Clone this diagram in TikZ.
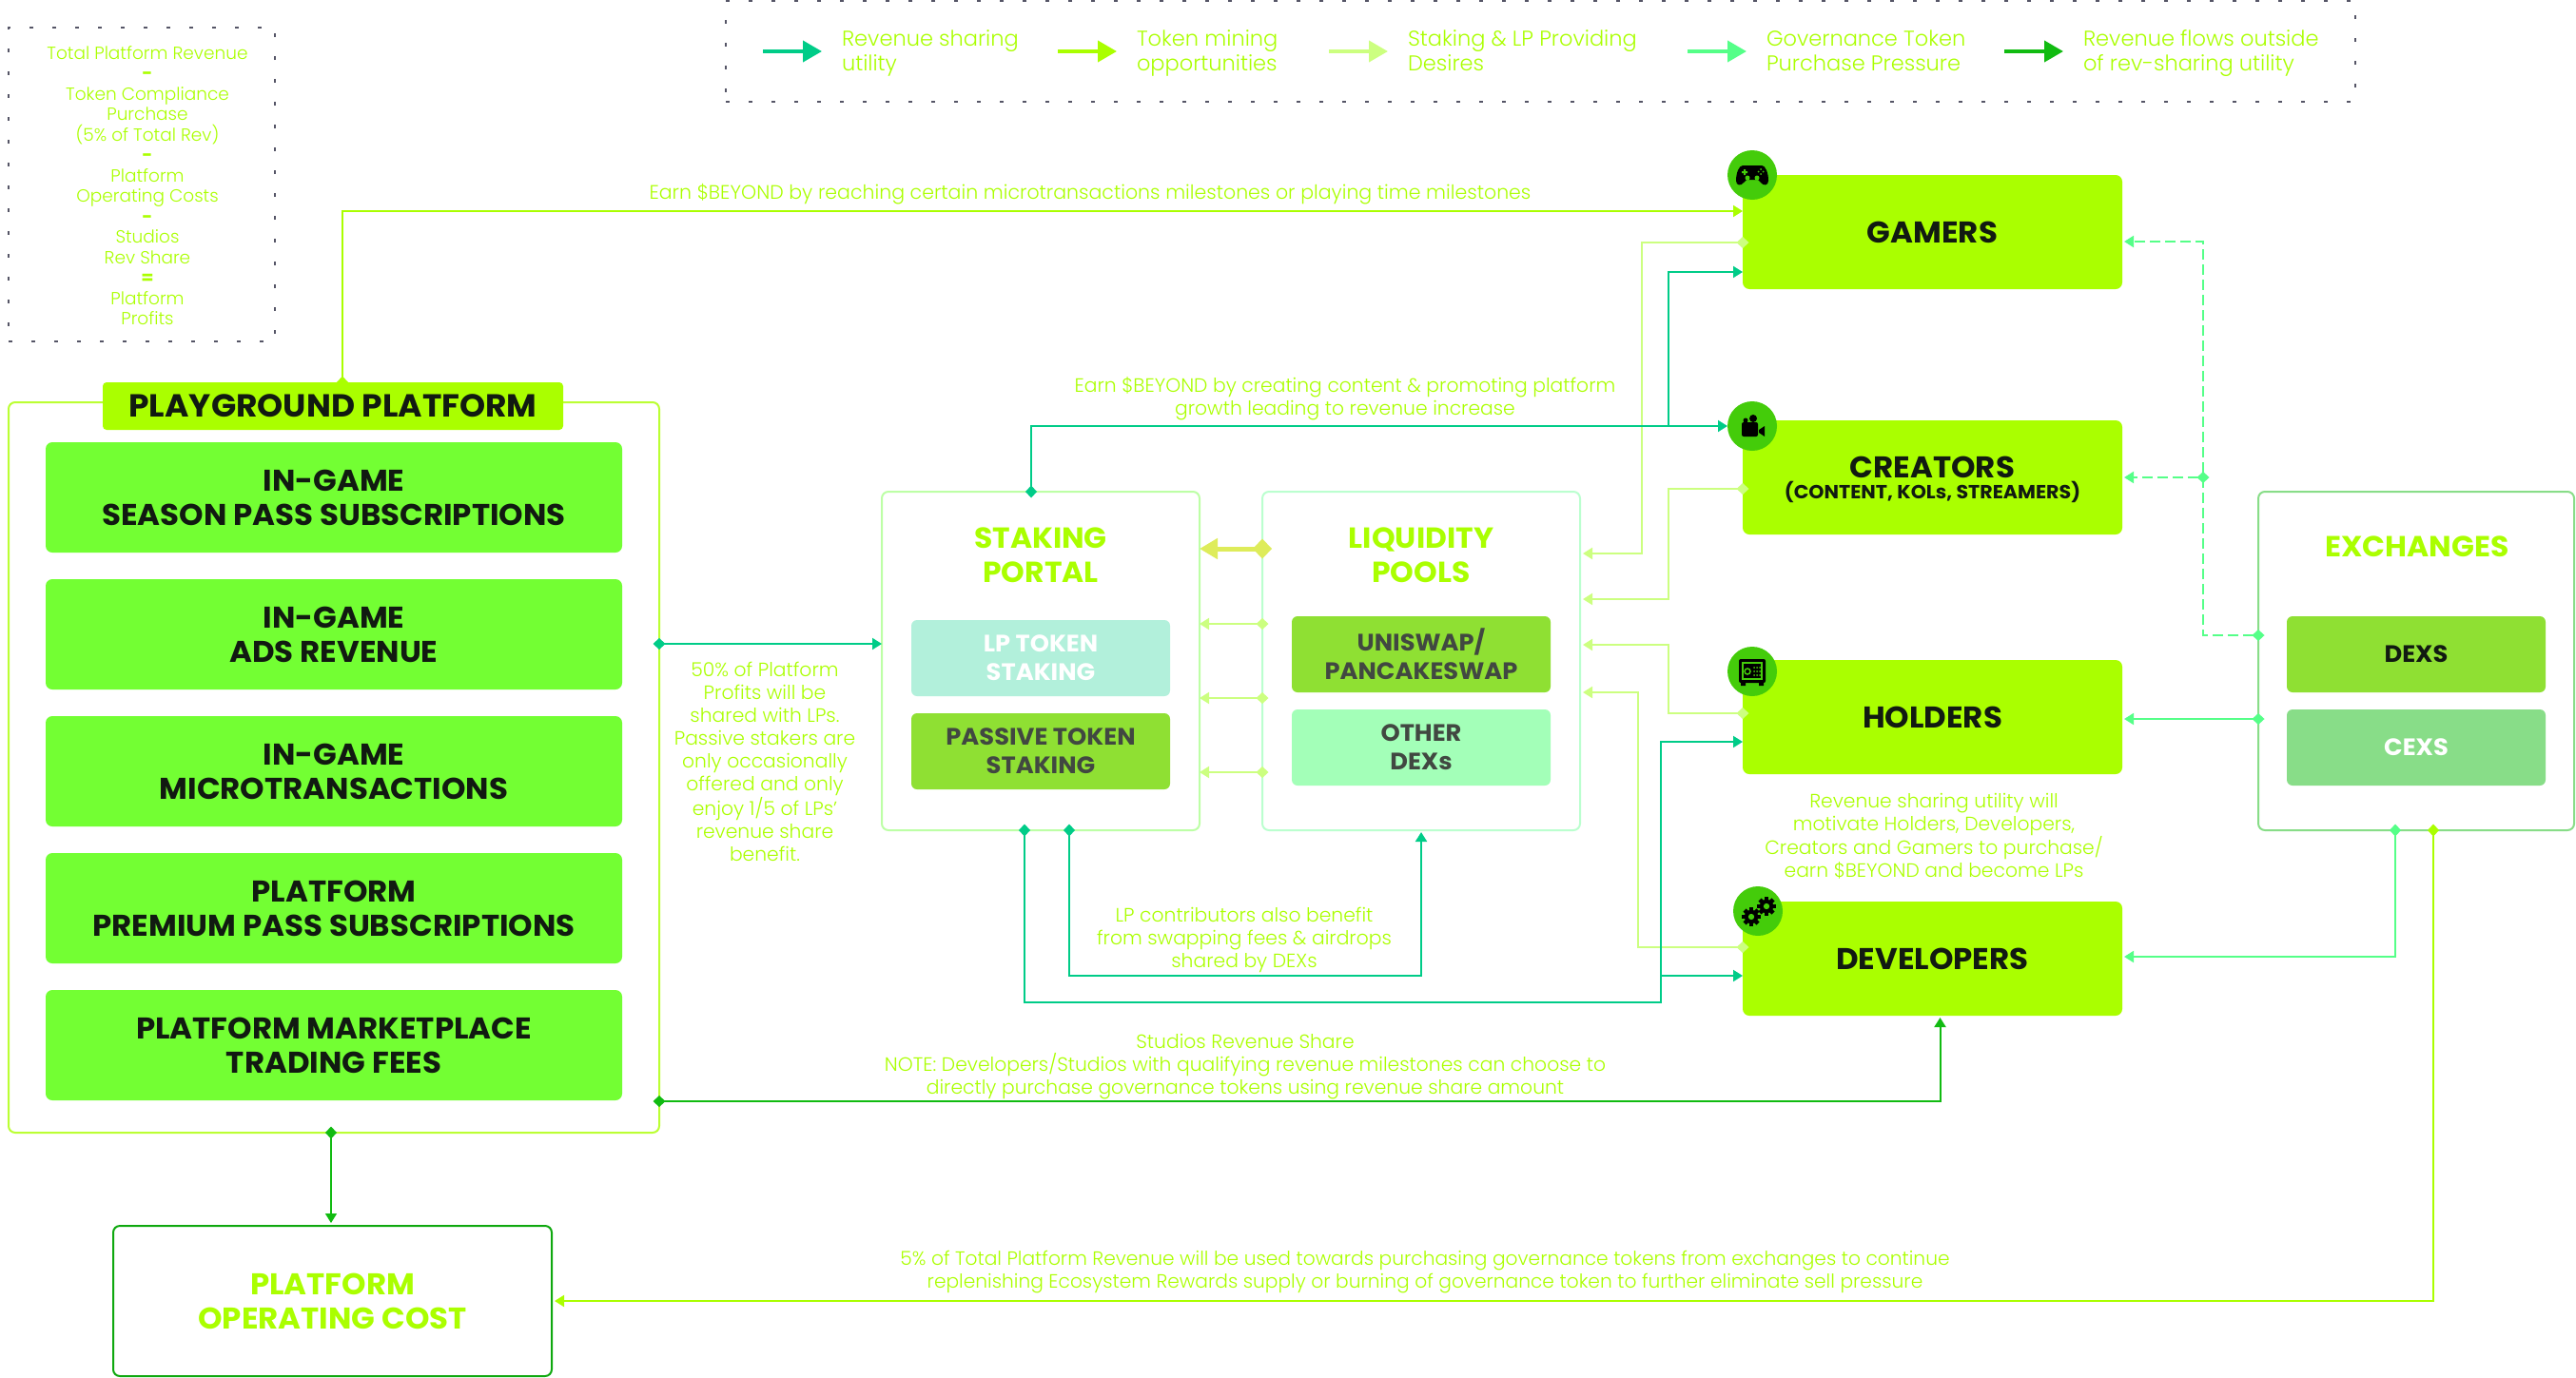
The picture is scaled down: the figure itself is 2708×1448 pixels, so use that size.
\documentclass[tikz,border=0pt]{standalone}
\usepackage{fontspec}
\setmainfont{Poppins Light}[BoldFont={Poppins Bold},BoldFeatures={FakeStretch=1.03}]
\usetikzlibrary{positioning,arrows.meta}
\definecolor{limec}{HTML}{AAFF00}
\definecolor{itemc}{HTML}{73FF33}
\definecolor{revc}{HTML}{00CC88}
\definecolor{stakec}{HTML}{CCFF80}
\definecolor{govc}{HTML}{55FF88}
\definecolor{flowc}{HTML}{11BB11}
\definecolor{iconc}{HTML}{44CC0A}
\definecolor{darkc}{HTML}{111A11}
\definecolor{dotc}{HTML}{555566}
\definecolor{subc}{HTML}{8FE033}
\definecolor{otherc}{HTML}{A3FFB8}
\tikzset{
  gamepad/.pic={
    \fill[black] (-10,-10) .. controls (-14,-10) and (-17,-2) .. (-17,6) .. controls (-17,11) and (-12,12) .. (-9,8) -- (-6,5) -- (6,5) -- (9,8) .. controls (12,12) and (17,11) .. (17,6) .. controls (17,-2) and (14,-10) .. (10,-10) -- cycle;
    \fill[iconc] (-5,3) circle (2.5) (5,3) circle (2.5) (-11,-4) rectangle (-5,-2) (-9,-6) rectangle (-7,0);
    \fill[iconc] (9,-6) circle (1) (9,-1) circle (1) (6.5,-3.5) circle (1) (11.5,-3.5) circle (1);
  },
  camcorder/.pic={
    \fill[black,rounded corners=2] (-11,-4) rectangle (6,11);
    \fill[black] (7,4) -- (13,0) -- (13,11) -- (7,7) -- cycle;
    \fill[black] (1,-8) circle (4) (-7,-6) circle (2.5);
  },
  safebox/.pic={
    \fill[black,rounded corners=2] (-14,-13) rectangle (14,12);
    \fill[black] (-12,12) rectangle (-7,15) (7,12) rectangle (12,15);
    \draw[iconc,line width=1.5] (-10,-9) rectangle (10,8);
    \draw[iconc,line width=1.5] (-5,0) circle (3);
    \foreach \i in {2,5,8} \foreach \j in {-4,0,4} \fill[iconc] (\i,\j) circle (1);
  },
  cogwheel/.pic={
    \foreach \a in {0,45,...,315} \fill[black,rotate=\a] (-2.5,-11) rectangle (2.5,0);
    \fill[black] (0,0) circle (8);
    \fill[iconc] (0,0) circle (3.5);
  },
}
\begin{document}
\begin{tikzpicture}[x=1pt,y=-1pt,>={Triangle[length=10pt,width=12pt]},
    dia/.tip={Diamond[length=13pt,width=12pt,sep=-6.5pt]},
    every node/.style={font=\fontsize{20.3}{24}\selectfont,align=center,inner sep=0pt,outer sep=0pt},
    note/.style={text=limec},
    dotbox/.style={draw=dotc,line width=2.5pt,dash pattern=on 4pt off 20pt},
    portal/.style={draw,rounded corners=7pt,line width=2pt,minimum width=334pt,minimum height=356pt},
    head/.style={text=limec,font=\fontsize{30.5}{36}\bfseries\selectfont},
    itembox/.style={fill=itemc,rounded corners=7pt,text=darkc,minimum width=606pt,minimum height=116pt,font=\fontsize{31.5}{36}\bfseries\selectfont},
    userbox/.style={fill=limec,rounded corners=7pt,text=darkc,minimum width=399pt,minimum height=120pt,font=\fontsize{31.5}{36}\bfseries\selectfont},
    subbox/.style={rounded corners=6pt,minimum width=272pt,minimum height=80pt,font=\fontsize{25}{30}\bfseries\selectfont},
    icon/.style={circle,fill=iconc,minimum size=52pt},
    rev/.style={draw=revc,line width=2pt},
    token/.style={draw=limec,line width=2pt},
    stake/.style={draw=stakec,line width=2pt},
    gov/.style={draw=govc,line width=2pt},
    flow/.style={draw=flowc,line width=2pt},
    legtext/.style={text=limec,anchor=west,align=left,text height=47pt,text depth=6pt,font=\fontsize{22.5}{26}\selectfont},
    legarrow/.style={line width=4pt,-{Triangle[length=20pt,width=22pt]}}]
  \useasboundingbox (0,0) rectangle (2708,1448);

  \node[dotbox,minimum width=280pt,minimum height=330pt] (formula) at (149,194) {};
  \node[note,font=\fontsize{18.5}{21.5}\selectfont] (formulatext) at (155,195) {Total Platform Revenue\\\textbf{-}\\Token Compliance\\Purchase\\(5\% of Total Rev)\\\textbf{-}\\Platform\\Operating Costs\\\textbf{-}\\Studios\\Rev Share\\\textbf{=}\\Platform\\Profits};

  \node[dotbox,minimum width=1713pt,minimum height=106pt] (legend) at (1619.5,54) {};
  \node[legtext] (leg1) at (885,54) {Revenue sharing\\utility};
  \node[legtext] (leg2) at (1195,54) {Token mining\\opportunities};
  \node[legtext] (leg3) at (1480,54) {Staking \& LP Providing\\Desires};
  \node[legtext] (leg4) at (1857,54) {Governance Token\\Purchase Pressure};
  \node[legtext] (leg5) at (2190,54) {Revenue flows outside\\of rev-sharing utility};
  \foreach \n/\c in {leg1/revc,leg2/limec,leg3/stakec,leg4/govc,leg5/flowc}
    \draw[legarrow,draw=\c,fill=\c,color=\c] ([xshift=-83pt]\n.west) -- ([xshift=-21pt]\n.west);

  \node[draw=limec!80!white,rounded corners=7pt,line width=2pt,minimum width=684pt,minimum height=768pt] (platform) at (351,807) {};
  \node[fill=limec,rounded corners=4pt,text=darkc,minimum width=484pt,minimum height=50pt,font=\fontsize{33.5}{36}\bfseries\selectfont] (title) at (350,427) {PLAYGROUND PLATFORM};
  \node[itembox] (item1) at (351,523) {IN-GAME\\SEASON PASS SUBSCRIPTIONS};
  \node[itembox,below=28pt of item1] (item2) {IN-GAME\\ADS REVENUE};
  \node[itembox,below=28pt of item2] (item3) {IN-GAME\\MICROTRANSACTIONS};
  \node[itembox,below=28pt of item3] (item4) {PLATFORM\\PREMIUM PASS SUBSCRIPTIONS};
  \node[itembox,below=28pt of item4] (item5) {PLATFORM MARKETPLACE\\TRADING FEES};
  \node[draw=flowc!90!black,rounded corners=7pt,line width=2pt,minimum width=461pt,minimum height=158pt,text=limec,font=\fontsize{31.5}{36}\bfseries\selectfont] (opcost) at (349.5,1368) {PLATFORM\\OPERATING COST};

  \node[portal,draw=stakec!60!green!50!white] (staking) at (1094,695) {};
  \node[portal,draw=govc!40!white] (liquidity) at (1494,695) {};
  \node[portal,draw=flowc!50!white,minimum width=332pt] (exchanges) at (2540,695) {};
  \node[head] (stakinghead) at (1094,584) {STAKING\\PORTAL};
  \node[head] (liquidityhead) at (1494,584) {LIQUIDITY\\POOLS};
  \node[head] (exchangeshead) at (2541,575) {EXCHANGES};
  \node[subbox,fill=revc!30!white,text=white] (lpstaking) at (1094,692) {LP TOKEN\\STAKING};
  \node[subbox,fill=subc,text=darkc!80!white,below=18pt of lpstaking] (passive) {PASSIVE TOKEN\\STAKING};
  \node[subbox,fill=subc,text=darkc!80!white] (uniswap) at (1494,688) {UNISWAP/\\PANCAKESWAP};
  \node[subbox,fill=otherc,text=darkc!80!white,below=18pt of uniswap] (otherdex) {OTHER\\DEXs};
  \node[subbox,fill=subc,text=darkc] (dexs) at (2540,688) {DEXS};
  \node[subbox,fill=flowc!50!white,text=white,below=18pt of dexs] (cexs) {CEXS};

  \node[userbox] (gamers) at (2031.5,244) {GAMERS};
  \node[userbox] (creators) at (2031.5,502) {\rule{0pt}{28pt}CREATORS\\[-14pt]{\fontsize{20}{24}\selectfont\bfseries (CONTENT, KOLs, STREAMERS)}};
  \node[userbox] (holders) at (2031.5,754) {HOLDERS};
  \node[userbox] (developers) at (2031.5,1008) {DEVELOPERS};

  \node[note,font=\fontsize{20.5}{24}\selectfont] (earngame) at (1146,204) {Earn \$BEYOND by reaching certain microtransactions milestones or playing time milestones};
  \node[note] (earncreate) at (1414,419) {Earn \$BEYOND by creating content \& promoting platform\\growth leading to revenue increase};
  \node[note] (fifty) at (804,801) {50\% of Platform\\Profits will be\\shared with LPs.\\Passive stakers are\\only occasionally\\offered and only\\enjoy 1/5 of LPs'\\revenue share\\benefit.};
  \node[note] (lpnote) at (1308,988) {LP contributors also benefit\\from swapping fees \& airdrops\\shared by DEXs};
  \node[note] (motivate) at (2033,879) {Revenue sharing utility will\\motivate Holders, Developers,\\Creators and Gamers to purchase/\\earn \$BEYOND and become LPs};
  \node[note] (studios) at (1309,1122) {Studios Revenue Share\\NOTE: Developers/Studios with qualifying revenue milestones can choose to\\directly purchase governance tokens using revenue share amount};
  \node[note,font=\fontsize{20.2}{24}\selectfont] (fivepct) at (1498,1338) {5\% of Total Platform Revenue will be used towards purchasing governance tokens from exchanges to continue\\replenishing Ecosystem Rewards supply or burning of governance token to further eliminate sell pressure};

  \node[icon] (gamericon) at (1842,184) {};
  \node[icon] (creatoricon) at (1842,448) {};
  \node[icon] (holdericon) at (1842,706) {};
  \node[icon] (devicon) at (1848,958) {};
  \pic at (gamericon) {gamepad};
  \pic at (creatoricon) {camcorder};
  \pic at (holdericon) {safebox};
  \pic[scale=.9] at ([xshift=9pt,yshift=5pt]devicon) {cogwheel};
  \pic[scale=.9] at ([xshift=-7pt,yshift=-6pt]devicon) {cogwheel};

  \coordinate (revsplit) at (1754,448);
  \coordinate (devsplit) at (1746,1026);
  \coordinate (govsplit) at (2316,502);

  \draw[token,dia->] ([xshift=10pt]title.north) |- (gamers.west |- 0,222);
  \draw[rev,dia->] (platform.east |- 0,677) -- (staking.west |- 0,677);
  \draw[flow,dia->] (platform.east |- 0,1158) -| ([xshift=8pt,yshift=-2pt]developers.south);
  \draw[flow,dia->,line width=1.5pt] ([xshift=-3pt]platform.south) -- ([xshift=-3pt,yshift=3pt]platform.south |- opcost.north);
  \draw[token,dia->] ([xshift=18pt]exchanges.south) |- ([xshift=3pt]opcost.east);

  \draw[draw=yellow!35!stakec,line width=5pt,{Diamond[length=20pt,width=21pt,sep=-10pt]}-{Triangle[length=19pt,width=21pt]}] (liquidity.west |- 0,577) -- (staking.east |- 0,577);
  \foreach \y in {656,734,812}
    \draw[stake,dia->] (liquidity.west |- 0,\y) -- (staking.east |- 0,\y);

  \draw[stake,dia->] ([yshift=-11pt]gamers.west) -- ++(-106,0) |- ([xshift=3pt]liquidity.east |- 0,582);
  \draw[stake,dia->] ([yshift=-12pt]creators.west) -- ++(-78,0) |- ([xshift=3pt]liquidity.east |- 0,630);
  \draw[stake,dia->] ([yshift=4pt]holders.west) -- ++(-78,0) |- ([xshift=3pt]liquidity.east |- 0,678);
  \draw[stake,dia->] ([yshift=12pt]developers.west) -- ++(-110,0) |- ([xshift=3pt]liquidity.east |- 0,728);

  \draw[rev,dia->] ([xshift=-10pt]staking.north) |- (creatoricon.west);
  \draw[rev,->] (revsplit) |- (gamers.west |- 0,286);
  \draw[rev,dia->] ([xshift=-17pt]staking.south) |- (1746,1054) |- (holders.west |- 0,780);
  \draw[rev,->] (devsplit) -- (developers.west |- devsplit);
  \draw[rev,dia->] ([xshift=30pt]staking.south) -- ++(0,153) -| ([yshift=-2pt]liquidity.south);

  \draw[gov,dia->,dash pattern=on 11pt off 5pt] ([yshift=27pt]exchanges.west) -- ++(-58,0) |- ([xshift=2pt]gamers.east |- 0,254);
  \draw[gov,dia->,dash pattern=on 11pt off 5pt] (govsplit) -- ([xshift=2pt]creators.east);
  \draw[gov,dia->] (exchanges.west |- 0,756) -- ([xshift=2pt]holders.east |- 0,756);
  \draw[gov,dia->] ([xshift=-22pt]exchanges.south) |- ([xshift=2pt]developers.east |- 0,1006);
\end{tikzpicture}
\end{document}
